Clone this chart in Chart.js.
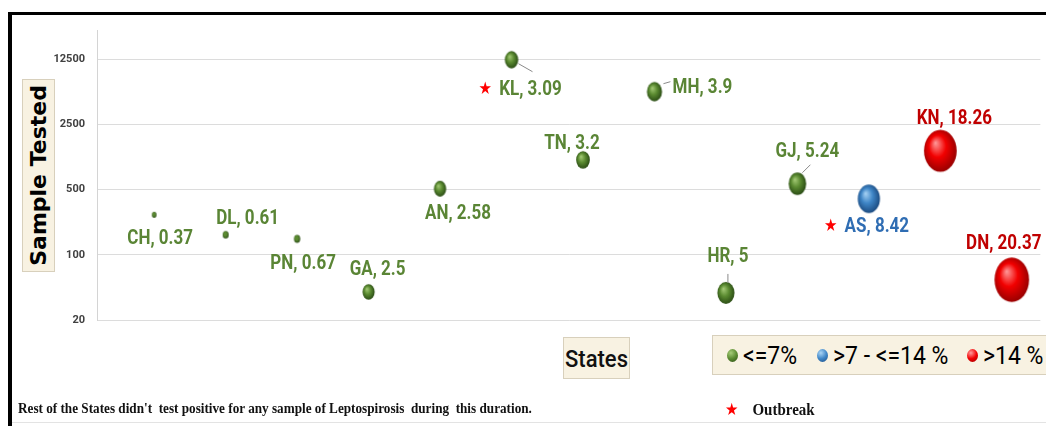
<!DOCTYPE html>
<html>
<head>
<meta charset="utf-8">
<script src="https://cdn.jsdelivr.net/npm/chart.js@4.4.1/dist/chart.umd.min.js"></script>
<style>
  html, body { margin:0; padding:0; }
  body { width:1046px; height:426px; overflow:hidden; background:#fff; position:relative; }
  #frame { position:absolute; left:8px; top:12px; width:1100px; height:500px; border-top:3px solid #000; border-left:4px solid #000; box-sizing:border-box; }
  #c { position:absolute; left:0; top:0; }
  .box { position:absolute; background:#f8f2e2; border:1px solid #d8d0bc; box-sizing:border-box; display:flex; align-items:center; justify-content:center; }
  #ytitle span { writing-mode:vertical-rl; transform:rotate(180deg); font:bold 22px "DejaVu Sans", sans-serif; color:#000; white-space:nowrap; }
  #xtitle { font:500 22px Roboto, sans-serif; color:#111; }
  #xtitle span { display:inline-block; transform:scaleY(1.12); }
  #legend { justify-content:flex-start; font:400 23px Roboto, sans-serif; color:#000; }
  .ball { display:inline-block; width:11px; height:13px; border-radius:50%; margin-right:5px; }
  .item { display:flex; align-items:center; position:absolute; top:6px; }
  .item .t { display:inline-block; transform:scaleY(1.1); }
  .note { position:absolute; font:bold 13.2px "Liberation Serif", "Times New Roman", serif; color:#111; white-space:pre; transform-origin:left center; transform:scaleY(1.12); }
</style>
</head>
<body>
<div id="frame"></div>
<canvas id="c" width="1060" height="426"></canvas>
<div class="box" id="ytitle" style="left:22px;top:79px;width:33px;height:193px;"><span>Sample Tested</span></div>
<div class="box" id="xtitle" style="left:563px;top:337px;width:67px;height:42px;"><span>States</span></div>
<div class="box" id="legend" style="left:712px;top:335px;width:360px;height:40px;"></div>
<div class="note" id="restNote" style="left:18px;top:401px;"></div>
<div class="note" id="outNote" style="left:725px;top:400px;font-size:15px;"><span style="color:#ff0000;font-family:'DejaVu Sans';font-size:15px;margin-right:14px;">★</span>Outbreak</div>
<div style="position:absolute;left:12px;top:422px;width:1040px;height:1px;background:#e3e3e3;"></div>
<script>
// ---------- data ----------
const states = ['CH','DL','PN','GA','AN','KL','TN','MH','HR','GJ','AS','KN','DN'];
const samplesTested = [268, 164, 148, 40, 510, 12300, 1040, 5590, 39, 577, 398, 1300, 54];
const positivityRate = [0.37, 0.61, 0.67, 2.5, 2.58, 3.09, 3.2, 3.9, 5, 5.24, 8.42, 18.26, 20.37];
const outbreakStates = ['KL', 'AS'];
const yTickValues = [20, 100, 500, 2500, 12500];
const bandLabels = ['<=7%', '>7 - <=14 %', '>14 %'];
const bandUpperLimits = [7, 14, Infinity];
const restNoteText = "Rest of the States didn't  test positive for any sample of Leptospirosis  during  this duration.";

// ---------- styles ----------
const bandPalettes = [
  { hi:'#a6cc78', mid:'#5b8b31', dark:'#2b4d15', text:'#5a8535' },
  { hi:'#a9d4f5', mid:'#3f86c7', dark:'#1c4c82', text:'#2f6db3' },
  { hi:'#ff9a9a', mid:'#f20000', dark:'#9a0000', text:'#c00000' }
];
// label centre offsets from bubble centre (px)
const labelOffsets = [[6,24],[22,-16],[6,25],[9,-22],[18,25],[19,30],[-11,-16],[48,-4],[2,-36],[10,-32],[8,28],[14,-32],[-8,-36]];
// leader lines [x1,y1,x2,y2] offsets from bubble centre (null = none)
const leaderLines = [null,null,null,null,null,[7,4,21,12],null,[9,-8,16,-10],[2,-10,2,-19],[5,-11,13,-19],null,null,null];
const radiusScale = 4.35;

function bandOf(rate){ return bandUpperLimits.findIndex(l => rate <= l); }

const sphereCache = {};
function sphere(r, band){
  const key = band + ':' + r.toFixed(2);
  if (sphereCache[key]) return sphereCache[key];
  const p = bandPalettes[band];
  const sx = 0.88, sy = 1.13;
  const cv = document.createElement('canvas');
  cv.width = Math.ceil(2*r*sx) + 2;
  cv.height = Math.ceil(2*r*sy) + 2;
  const g = cv.getContext('2d');
  g.translate(cv.width/2, cv.height/2);
  g.scale(sx, sy);
  const grad = g.createRadialGradient(-0.3*r, -0.38*r, 0, -0.05*r, -0.05*r, r*1.05);
  grad.addColorStop(0, r < 4 ? p.mid : p.hi);
  grad.addColorStop(0.5, p.mid);
  grad.addColorStop(1, p.dark);
  g.fillStyle = grad;
  g.beginPath(); g.arc(0, 0, r, 0, Math.PI*2); g.fill();
  sphereCache[key] = cv;
  return cv;
}

// ---------- datasets (one per positivity band) ----------
const datasets = bandLabels.map((lab, b) => ({
  label: lab,
  data: states.map((s, i) => i).filter(i => bandOf(positivityRate[i]) === b).map(i => ({
    x: i + 1, y: samplesTested[i], r: radiusScale * Math.sqrt(positivityRate[i])
  })),
  backgroundColor: bandPalettes[b].mid,
  borderWidth: 0,
  pointStyle: ctx => (ctx.raw && ctx.raw.r) ? sphere(ctx.raw.r, b) : 'circle'
}));

// ---------- labels plugin ----------
const labelPlugin = {
  id: 'stateLabels',
  afterDatasetsDraw(chart){
    const g = chart.ctx, xs = chart.scales.x, ys = chart.scales.y;
    states.forEach((s, i) => {
      const px = xs.getPixelForValue(i + 1), py = ys.getPixelForValue(samplesTested[i]);
      const ll = leaderLines[i];
      g.save();
      if (ll){
        g.strokeStyle = '#8a8a8a'; g.lineWidth = 1;
        g.beginPath(); g.moveTo(px+ll[0], py+ll[1]); g.lineTo(px+ll[2], py+ll[3]); g.stroke();
      }
      const band = bandOf(positivityRate[i]);
      const text = s + ', ' + positivityRate[i];
      const [dx, dy] = labelOffsets[i];
      g.translate(px + dx, py + dy);
      g.scale(1, 1.15);
      g.font = '700 17px Roboto, sans-serif';
      g.textAlign = 'center'; g.textBaseline = 'middle';
      g.fillStyle = bandPalettes[band].text;
      g.fillText(text, 0, 0);
      if (outbreakStates.includes(s)){
        const w = g.measureText(text).width;
        g.font = '15px "DejaVu Sans", sans-serif';
        g.fillStyle = '#ff0000';
        g.fillText('★', -w/2 - 14, 0);
      }
      g.restore();
    });
  }
};

function build(){
  const lg = document.getElementById('legend');
  const lefts = [14, 104, 254];
  bandLabels.forEach((lab, b) => {
    const p = bandPalettes[b];
    const it = document.createElement('div');
    it.className = 'item';
    it.style.left = lefts[b] + 'px';
    it.innerHTML = '<span class="ball" style="background:radial-gradient(circle at 35% 30%,' + p.hi + ' 0%,' + p.mid + ' 50%,' + p.dark + ' 100%)"></span><span class="t">' + lab + '</span>';
    lg.appendChild(it);
  });
  document.getElementById('restNote').textContent = restNoteText;

  new Chart(document.getElementById('c'), {
    type: 'bubble',
    data: { datasets },
    plugins: [labelPlugin],
    options: {
      responsive: false,
      animation: false,
      devicePixelRatio: 1,
      layout: { padding: { top: 30, right: 6, bottom: 106, left: 0 } },
      plugins: { legend: { display: false }, tooltip: { enabled: false } },
      scales: {
        x: { type: 'linear', min: 0.2, max: 13.4, display: false },
        y: {
          type: 'logarithmic', min: 20, max: 25600,
          afterBuildTicks: s => { s.ticks = yTickValues.map(v => ({ value: v })); },
          afterFit: s => { s.width = 97; },
          ticks: { callback: v => String(v), font: { family: 'Roboto', size: 11, weight: 'bold' }, color: '#404040', padding: 12 },
          grid: { color: '#dcdcdc', drawTicks: false },
          border: { color: '#d4d4d4' }
        }
      }
    }
  });
}
if (document.fonts && document.fonts.load){
  Promise.all([document.fonts.load('700 17px Roboto'), document.fonts.load('400 23px Roboto')]).then(build, build);
} else build();
</script>
</body>
</html>
